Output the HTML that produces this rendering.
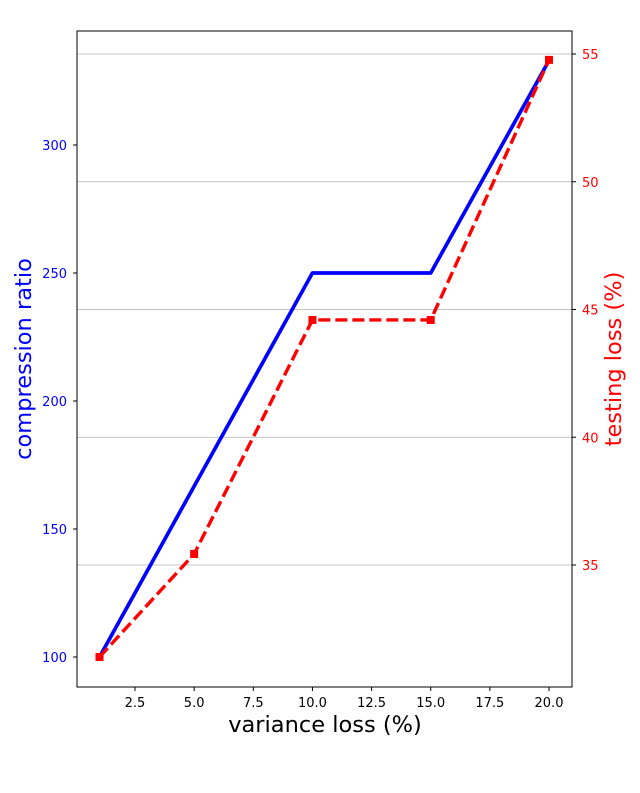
<!DOCTYPE html>
<html><head><meta charset="utf-8">
<style>body{margin:0;background:#fff}svg{display:block;font-family:"DejaVu Sans","Liberation Sans",sans-serif}</style>
</head><body>
<svg id="chart" width="640" height="793" viewBox="0 0 640 793"></svg>
<script>
const xValues = [1, 5, 10, 15, 20];
const compressionRatio = [100, 166.7, 250, 250, 333];
const testingLoss = [31.4, 35.43, 44.59, 44.59, 54.77];
const xTicks = [2.5, 5.0, 7.5, 10.0, 12.5, 15.0, 17.5, 20.0];
const leftTicks = [100, 150, 200, 250, 300];
const rightTicks = [35, 40, 45, 50, 55];

const L=77,R=572,T=31,B=687;
const sx=v=>135+(v-2.5)*(414/17.5);
const syL=v=>657-(v-100)*2.56;
const syR=v=>565-(v-35)*25.55;
const svg=document.getElementById('chart');
const NS='http://www.w3.org/2000/svg';
function mk(tag,attrs,parent){const e=document.createElementNS(NS,tag);for(const k in attrs)e.setAttribute(k,attrs[k]);(parent||svg).appendChild(e);return e;}

rightTicks.forEach(t=>{
  const g=mk('line',{x1:L,x2:R,y1:syR(t),y2:syR(t),stroke:'#b0b0b0','stroke-width':0.8});
  
  
});
const bl=mk('polyline',{points:xValues.map((x,i)=>sx(x)+','+syL(compressionRatio[i])).join(' '),fill:'none',stroke:'#0000ff','stroke-width':3.7,'stroke-linejoin':'round','stroke-linecap':'square'});


const rl=mk('polyline',{points:xValues.map((x,i)=>sx(x)+','+syR(testingLoss[i])).join(' '),fill:'none',stroke:'#ff0000','stroke-width':3.4,'stroke-dasharray':'12,5'});


xValues.forEach((x,i)=>{
  const m=mk('rect',{x:sx(x)-4,y:syR(testingLoss[i])-4,width:8,height:8,fill:'#ff0000'});
  
  
});
const fr=mk('rect',{x:L,y:T,width:R-L,height:B-T,fill:'none',stroke:'#000','stroke-width':1});


xTicks.forEach(t=>{
  mk('line',{x1:sx(t),x2:sx(t),y1:B,y2:B+4,stroke:'#000'});
  const tx=mk('text',{x:sx(t),y:B+20,'text-anchor':'middle','font-size':13,fill:'#000'});
  tx.textContent=t.toFixed(1);
  
  
});
leftTicks.forEach(t=>{
  mk('line',{x1:L-4,x2:L,y1:syL(t),y2:syL(t),stroke:'#000'});
  const tx=mk('text',{x:L-10,y:syL(t)+5,'text-anchor':'end','font-size':13,fill:'#0000ff'});
  tx.textContent=t;
  
  
});
rightTicks.forEach(t=>{
  mk('line',{x1:R,x2:R+4,y1:syR(t),y2:syR(t),stroke:'#000'});
  const tx=mk('text',{x:R+10,y:syR(t)+5,'text-anchor':'start','font-size':13,fill:'#ff0000'});
  tx.textContent=t;
  
  
});
</script>
<svg style="position:absolute;left:0;top:0" width="640" height="793">
<text x="325" y="732" text-anchor="middle" font-size="22.5" fill="#000">variance loss (%)</text>
<text transform="translate(31,359) rotate(-90)" text-anchor="middle" font-size="22.5" fill="#0000ff">compression ratio</text>
<text transform="translate(621,359) rotate(-90)" text-anchor="middle" font-size="22.5" fill="#ff0000">testing loss (%)</text>
</svg>
</body></html>
